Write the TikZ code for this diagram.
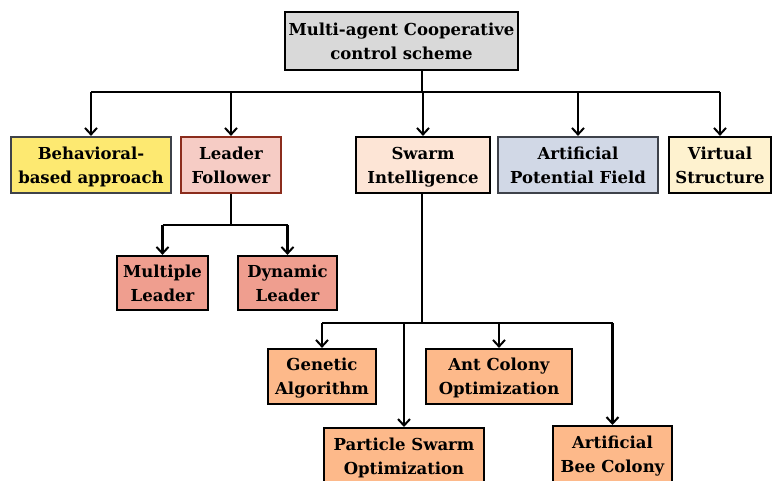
\documentclass[tikz,border=0pt]{standalone}
\usepackage{fontspec}
\setmainfont{DejaVu Serif}
\usetikzlibrary{arrows.meta}

\definecolor{topgray}{HTML}{D9D9D9}
\definecolor{behyellow}{HTML}{FDE971}
\definecolor{behedge}{HTML}{3E424A}
\definecolor{lfpink}{HTML}{F6CCC5}
\definecolor{lfedge}{HTML}{8B2C1C}
\definecolor{leadsalmon}{HTML}{EF9E8F}
\definecolor{swarmpeach}{HTML}{FDE5D6}
\definecolor{apfblue}{HTML}{D1D8E6}
\definecolor{vscream}{HTML}{FEF2CF}
\definecolor{algorange}{HTML}{FDB98A}

\tikzset{
  box/.style={draw=black, line width=2.2pt, rectangle, align=center,
    inner sep=0pt, text depth=-2pt, font=\bfseries\fontsize{16.5}{24}\selectfont},
  arr/.style={line width=2.2pt, -{Straight Barb[length=6.5pt,width=12pt,line width=2pt]}},
  wire/.style={line width=2.2pt},
}

\begin{document}
\begin{tikzpicture}[x=1pt,y=-1pt]
\useasboundingbox (0,0) rectangle (772,480);
\clip (0,0) rectangle (772,480);

% root
\node[box, fill=topgray, minimum width=233, minimum height=58] (top) at (401.5,41)
  {Multi-agent Cooperative\\control scheme};

% first level
\node[box, fill=behyellow, draw=behedge, minimum width=160, minimum height=56] (beh) at (91,165)
  {Behavioral-\\based approach};
\node[box, fill=lfpink, draw=lfedge, minimum width=100, minimum height=56] (lf) at (231,165)
  {Leader\\Follower};
\node[box, fill=swarmpeach, minimum width=134, minimum height=56] (si) at (423,165)
  {Swarm\\Intelligence};
\node[box, fill=apfblue, draw=behedge, minimum width=160, minimum height=56] (apf) at (578,165)
  {Artificial\\Potential Field};
\node[box, fill=vscream, minimum width=102, minimum height=56] (vs) at (720,165)
  {Virtual\\Structure};

% leader-follower variants
\node[box, fill=leadsalmon, minimum width=91, minimum height=54] (ml) at (162.5,283)
  {Multiple\\Leader};
\node[box, fill=leadsalmon, minimum width=99, minimum height=54] (dl) at (287.5,283)
  {Dynamic\\Leader};

% swarm intelligence algorithms
\node[box, fill=algorange, minimum width=108, minimum height=55] (ga) at (322,376.5)
  {Genetic\\Algorithm};
\node[box, fill=algorange, minimum width=146, minimum height=55] (aco) at (499,376.5)
  {Ant Colony\\Optimization};
\node[box, fill=algorange, minimum width=160, minimum height=56, anchor=north] (pso) at (404,427)
  {Particle Swarm\\Optimization};
\node[box, fill=algorange, minimum width=119, minimum height=56, anchor=north] (abc) at (612.5,425)
  {Artificial\\Bee Colony};

% root to first level
\coordinate (bus) at (422,92);
\draw[wire] (top.south -| bus) -- (bus);
\draw[wire] (beh.north |- bus) -- (vs.north |- bus);
\foreach \n in {beh,lf,si,apf,vs}
  \draw[arr] (\n.north |- bus) -- (\n.north);

% leader follower branch
\coordinate (lfbus) at (231,225);
\draw[wire] (lf.south) -- (lf.south |- lfbus);
\draw[wire] (ml.north |- lfbus) -- (dl.north |- lfbus);
\foreach \n in {ml,dl}
  \draw[arr] (\n.north |- lfbus) -- (\n.north);

% swarm intelligence branch
\coordinate (sibus) at (422,323);
\draw[wire] (si.south -| sibus) -- (sibus);
\draw[wire] (ga.north |- sibus) -- (abc.north |- sibus);
\foreach \n in {ga,pso,aco,abc}
  \draw[arr] (\n.north |- sibus) -- (\n.north);
\end{tikzpicture}
\end{document}
